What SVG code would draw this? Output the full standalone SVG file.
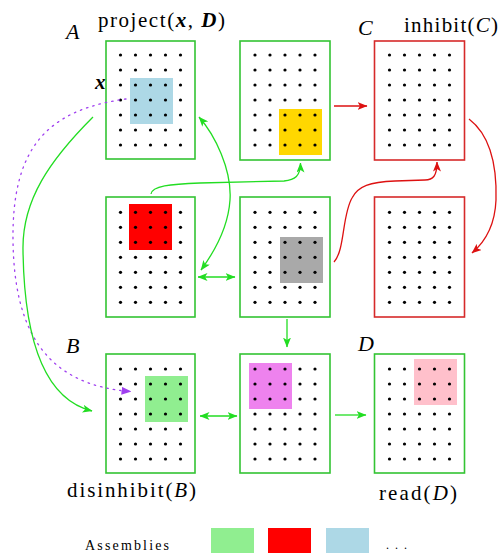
<svg xmlns="http://www.w3.org/2000/svg" xmlns:xlink="http://www.w3.org/1999/xlink" width="500" height="553" viewBox="0 0 500 553">
<style>
  .gbox { fill: #ffffff; stroke: #33c433; stroke-width: 1.6; }
  .rbox { fill: #ffffff; stroke: #d62a2a; stroke-width: 1.6; }
  .lbl { font-family: "Liberation Serif", "DejaVu Serif", serif; fill: #000; }
  .it { font-style: italic; }
  .bi { font-style: italic; font-weight: bold; }
  .garr { fill: none; stroke: #22dd22; stroke-width: 1.3; }
  .rarr { fill: none; stroke: #dd1111; stroke-width: 1.3; }
  .parr { fill: none; stroke: #a040f0; stroke-width: 1.3; stroke-dasharray: 1.5 5; stroke-linecap: round; }
</style>
<defs>
  <marker id="mg" viewBox="0 0 10 8" refX="9.5" refY="4" markerWidth="10" markerHeight="8" markerUnits="userSpaceOnUse" orient="auto-start-reverse">
    <path d="M0,0 L10,4 L0,8 L2.5,4 z" fill="#22dd22"/>
  </marker>
  <marker id="mr" viewBox="0 0 10 8" refX="9.5" refY="4" markerWidth="10" markerHeight="8" markerUnits="userSpaceOnUse" orient="auto-start-reverse">
    <path d="M0,0 L10,4 L0,8 L2.5,4 z" fill="#dd1111"/>
  </marker>
  <marker id="mp" viewBox="0 0 10 8" refX="9.5" refY="4" markerWidth="10" markerHeight="8" markerUnits="userSpaceOnUse" orient="auto">
    <path d="M0,0 L10,4 L0,8 z" fill="#a040f0"/>
  </marker>
  <g id="grid" fill="#000">
    <circle cx="0" cy="0" r="1.6"/><circle cx="15" cy="0" r="1.6"/><circle cx="30" cy="0" r="1.6"/><circle cx="45" cy="0" r="1.6"/><circle cx="60" cy="0" r="1.6"/>
    <circle cx="0" cy="15" r="1.6"/><circle cx="15" cy="15" r="1.6"/><circle cx="30" cy="15" r="1.6"/><circle cx="45" cy="15" r="1.6"/><circle cx="60" cy="15" r="1.6"/>
    <circle cx="0" cy="30" r="1.6"/><circle cx="15" cy="30" r="1.6"/><circle cx="30" cy="30" r="1.6"/><circle cx="45" cy="30" r="1.6"/><circle cx="60" cy="30" r="1.6"/>
    <circle cx="0" cy="45" r="1.6"/><circle cx="15" cy="45" r="1.6"/><circle cx="30" cy="45" r="1.6"/><circle cx="45" cy="45" r="1.6"/><circle cx="60" cy="45" r="1.6"/>
    <circle cx="0" cy="60" r="1.6"/><circle cx="15" cy="60" r="1.6"/><circle cx="30" cy="60" r="1.6"/><circle cx="45" cy="60" r="1.6"/><circle cx="60" cy="60" r="1.6"/>
    <circle cx="0" cy="75" r="1.6"/><circle cx="15" cy="75" r="1.6"/><circle cx="30" cy="75" r="1.6"/><circle cx="45" cy="75" r="1.6"/><circle cx="60" cy="75" r="1.6"/>
    <circle cx="0" cy="90" r="1.6"/><circle cx="15" cy="90" r="1.6"/><circle cx="30" cy="90" r="1.6"/><circle cx="45" cy="90" r="1.6"/><circle cx="60" cy="90" r="1.6"/>
  </g>
</defs>

<!-- Row 1 -->
<g id="nodeA">
  <rect class="gbox" x="106" y="41" width="89" height="118"/>
  <rect x="130" y="78" width="43" height="46" fill="#add8e6"/>
  <use xlink:href="#grid" x="120.5" y="55"/>
</g>
<g id="nodeTopMid">
  <rect class="gbox" x="240" y="41" width="90" height="119"/>
  <rect x="279" y="109" width="43" height="46" fill="#ffd700"/>
  <use xlink:href="#grid" x="255" y="55"/>
</g>
<g id="nodeC">
  <rect class="rbox" x="374.5" y="41" width="90" height="119"/>
  <use xlink:href="#grid" x="389.5" y="55"/>
</g>

<!-- Row 2 -->
<g id="nodeRed">
  <rect class="gbox" x="106" y="197" width="89" height="120"/>
  <rect x="129" y="204" width="43" height="46" fill="#ff0000"/>
  <use xlink:href="#grid" x="120.5" y="212.3"/>
</g>
<g id="nodeGray">
  <rect class="gbox" x="240" y="197" width="90" height="120"/>
  <rect x="280" y="237" width="43" height="46" fill="#a9a9a9"/>
  <use xlink:href="#grid" x="255" y="212.3"/>
</g>
<g id="nodeRight2">
  <rect class="rbox" x="374.5" y="197" width="90" height="120"/>
  <use xlink:href="#grid" x="389.5" y="212.3"/>
</g>

<!-- Row 3 -->
<g id="nodeB">
  <rect class="gbox" x="106" y="354" width="89" height="119"/>
  <rect x="145" y="376" width="43" height="46" fill="#90ee90"/>
  <use xlink:href="#grid" x="120.5" y="369"/>
</g>
<g id="nodeMagenta">
  <rect class="gbox" x="240" y="354" width="90" height="119"/>
  <rect x="249" y="363" width="43" height="46" fill="#ee82ee"/>
  <use xlink:href="#grid" x="255" y="369"/>
</g>
<g id="nodeD">
  <rect class="gbox" x="374.5" y="354" width="90" height="119"/>
  <rect x="414" y="359" width="43" height="46" fill="#ffc0cb"/>
  <use xlink:href="#grid" x="389.5" y="369"/>
</g>

<!-- Connectors -->
<g id="connectors">
  <path class="parr" d="M126,99 C45,110 12,150 13,240 C14,330 45,385 131,391.5" marker-end="url(#mp)"/>
  <path class="garr" d="M93,117 C50,160 22,200 23,250 C24,330 40,398 92,411" marker-end="url(#mg)"/>
  <path class="garr" d="M151,194 C152,186 170,184 200,183 L284,181 C295,180 300.5,176 300.5,163" marker-end="url(#mg)"/>
  <path class="garr" d="M199,117 C215,135 232,170 230,200 C228,230 212,255 201,270" marker-start="url(#mg)" marker-end="url(#mg)"/>
  <path class="garr" d="M198,277 L235,277" marker-start="url(#mg)" marker-end="url(#mg)"/>
  <path class="garr" d="M287,319 L287,347" marker-end="url(#mg)"/>
  <path class="garr" d="M200,416 L237,416" marker-start="url(#mg)" marker-end="url(#mg)"/>
  <path class="garr" d="M335,415 L366,415" marker-end="url(#mg)"/>
  <path class="rarr" d="M334,106 L367,106" marker-end="url(#mr)"/>
  <path class="rarr" d="M334,262 C345,250 342,215 352,198 C358,186 370,182 395,181 L425,180 C433,180 437,176 437,162" marker-end="url(#mr)"/>
  <path class="rarr" d="M469,119 C490,135 497,165 496,200 C495,225 485,242 472,253" marker-end="url(#mr)"/>
</g>

<!-- Labels -->
<g id="labels">
  <text class="lbl it" x="66" y="39" font-size="22">A</text>
  <text class="lbl it" x="358" y="35" font-size="22">C</text>
  <text class="lbl it" x="66" y="353" font-size="22">B</text>
  <text class="lbl it" x="358" y="351" font-size="22">D</text>
  <text class="lbl bi" x="95" y="89" font-size="21">x</text>
  <text class="lbl" x="98" y="27" font-size="21" textLength="127" lengthAdjust="spacing">project(<tspan class="bi">x</tspan>, <tspan class="bi">D</tspan>)</text>
  <text class="lbl" x="404" y="32" font-size="21" textLength="94" lengthAdjust="spacing">inhibit(<tspan class="it">C</tspan>)</text>
  <text class="lbl" x="67" y="497" font-size="21" textLength="129" lengthAdjust="spacing">disinhibit(<tspan class="it">B</tspan>)</text>
  <text class="lbl" x="379" y="500" font-size="21" textLength="78" lengthAdjust="spacing">read(<tspan class="it">D</tspan>)</text>
</g>

<!-- Legend -->
<g id="legend">
  <text class="lbl" x="85" y="550" font-size="14" textLength="84" lengthAdjust="spacing">Assemblies</text>
  <rect x="211" y="528" width="43" height="25" fill="#90ee90"/>
  <rect x="268" y="528" width="43" height="25" fill="#ff0000"/>
  <rect x="326" y="528" width="43" height="25" fill="#add8e6"/>
  <text class="lbl" x="386" y="549" font-size="12" textLength="21" lengthAdjust="spacing">. . .</text>
</g>
</svg>
